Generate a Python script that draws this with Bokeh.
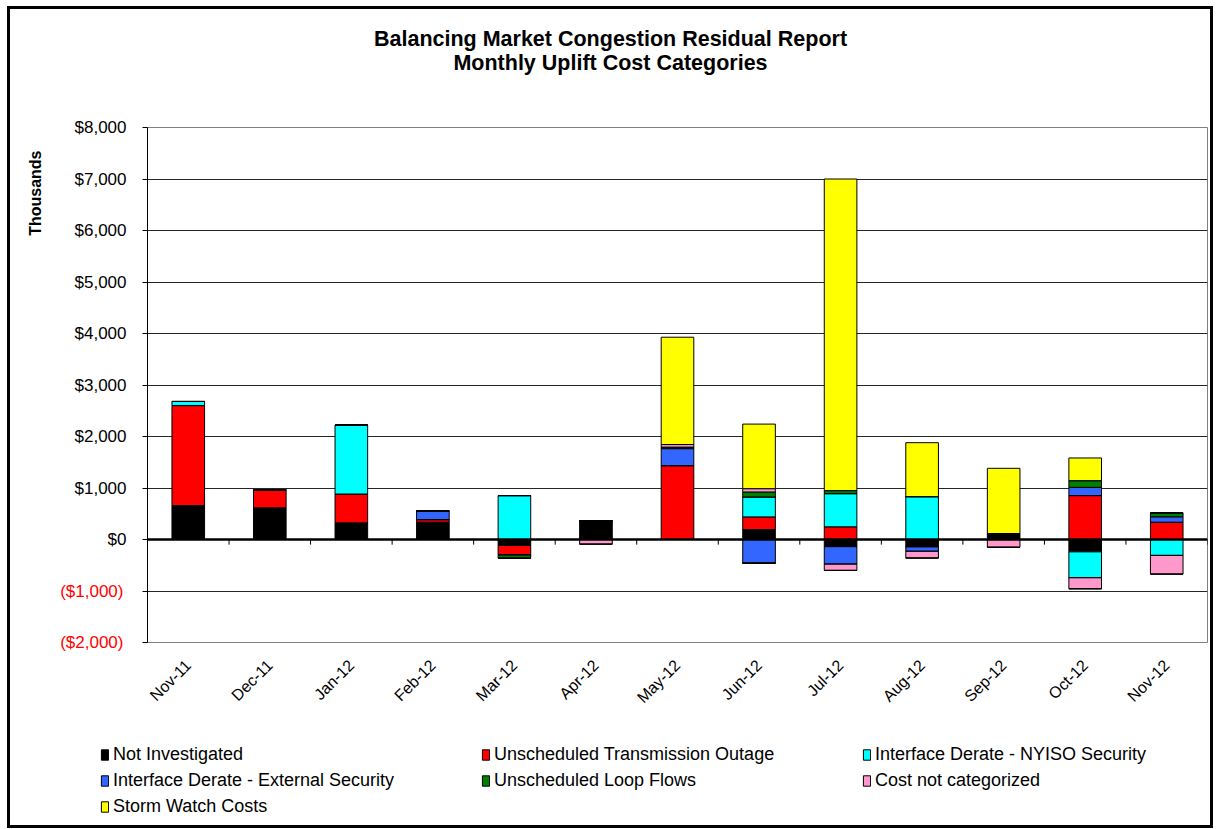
from bokeh.plotting import figure
from bokeh.layouts import column
from bokeh.models import (ColumnDataSource, FactorRange, Range1d, FixedTicker, Span,
                          Legend, LegendItem, Title, LinearAxis, Label)
from bokeh.embed import file_html
from bokeh.resources import INLINE

months = ["Nov-11", "Dec-11", "Jan-12", "Feb-12", "Mar-12", "Apr-12", "May-12",
          "Jun-12", "Jul-12", "Aug-12", "Sep-12", "Oct-12", "Nov-12"]

# values in thousands of dollars
not_investigated = [660, 615, 323, 336, -116, 368, 0, 194, -140, -120, 116, -240, 0]
trans_outage = [1940, 350, 560, 50, -187, 0, 1434, 245, 246, -25, 0, 853, 336]
nyiso_security = [80, 0, 1340, 0, 853, 0, 0, 387, 645, 833, 0, -504, -310]
external_security = [0, 0, 0, 170, 0, 0, 330, -460, -340, -85, 0, 160, 104]
loop_flows = [0, 0, 0, 0, -60, 0, 30, 97, 59, 0, 0, 130, 77]
not_categorized = [0, 0, 0, 0, 0, -90, 50, 64, -120, -130, -150, -213, -362]
storm_watch = [0, 0, 0, 0, 0, 0, 2084, 1254, 6050, 1047, 1266, 440, 0]

series_names = ["Not Investigated", "Unscheduled Transmission Outage",
                "Interface Derate - NYISO Security", "Interface Derate - External Security",
                "Unscheduled Loop Flows", "Cost not categorized", "Storm Watch Costs"]
series_colors = ["#000000", "#FF0000", "#00FFFF", "#3366FF", "#008000", "#FF99CC", "#FFFF00"]

y_ticks = [-2000, -1000, 0, 1000, 2000, 3000, 4000, 5000, 6000, 7000, 8000]
y_tick_labels = ["($2,000)", "($1,000)", "$0", "$1,000", "$2,000", "$3,000", "$4,000",
                 "$5,000", "$6,000", "$7,000", "$8,000"]

chart_title = "Balancing Market Congestion Residual Report\nMonthly Uplift Cost Categories"

series = [not_investigated, trans_outage, nyiso_security, external_security,
          loop_flows, not_categorized, storm_watch]

FONT = "Liberation Sans"
W = 1200

data = {"month": months}
pos_keys, neg_keys = [], []
for i, s in enumerate(series):
    data[f"p{i}"] = [max(v, 0) for v in s]
    data[f"n{i}"] = [min(v, 0) for v in s]
    pos_keys.append(f"p{i}")
    neg_keys.append(f"n{i}")
src = ColumnDataSource(data)

# ---------------- title strip ----------------
tf = figure(width=W, height=100, x_range=Range1d(0, 1), y_range=Range1d(0, 1),
            x_axis_type=None, y_axis_type=None, output_backend="svg", toolbar_location=None,
            min_border=0, outline_line_color=None, frame_align=False)
tf.add_layout(Label(x=W / 2, y=83, x_units="screen", y_units="screen", text=chart_title,
                    text_align="center", text_baseline="top", text_font=FONT,
                    text_font_size="21.5px", text_font_style="bold", text_color="black",
                    text_line_height=1.0))

# ---------------- main chart ----------------
p = figure(width=W, height=626, x_range=FactorRange(*months, range_padding=0),
           y_range=Range1d(y_ticks[0], y_ticks[-1]),
           output_backend="svg", toolbar_location=None,
           min_border_left=136, min_border_right=3, min_border_top=18, min_border_bottom=93)
p.title = None

pos_r = p.vbar_stack(pos_keys, x="month", width=0.4, fill_color=series_colors,
                     line_color="black", line_width=1, source=src)
neg_r = p.vbar_stack(neg_keys, x="month", width=0.4, fill_color=series_colors,
                     line_color="black", line_width=1, source=src)

# zero line and category tick marks on it
p.add_layout(Span(location=0, dimension="width", line_color="black", line_width=2.5))
bounds = list(range(0, len(months) + 1))
p.segment(x0=bounds, x1=bounds, y0=[0] * len(bounds), y1=[-100] * len(bounds),
          line_color="black", line_width=1)

# inner y axis: line, ticks, positive labels in black
p.yaxis.ticker = FixedTicker(ticks=y_ticks)
p.yaxis.major_label_overrides = {t: (lab if t >= 0 else "") for t, lab in zip(y_ticks, y_tick_labels)}
p.yaxis.major_label_text_font = FONT
p.yaxis.major_label_text_font_size = "17px"
p.yaxis.major_label_text_color = "black"
p.yaxis.major_label_standoff = 16
p.yaxis.major_tick_in = 0
p.yaxis.major_tick_out = 5
p.yaxis.minor_tick_line_color = None
p.yaxis.axis_line_color = "black"
p.yaxis.major_tick_line_color = "black"

# outer y axis pulled back onto the inner one: negative labels in red
neg_ticks = [t for t in y_ticks if t < 0]
neg_axis = LinearAxis(ticker=FixedTicker(ticks=neg_ticks),
                      major_label_overrides={t: lab for t, lab in zip(y_ticks, y_tick_labels) if t < 0},
                      major_label_text_font=FONT, major_label_text_font_size="17px",
                      major_label_text_color="#FF0000", major_label_standoff=-52,
                      major_tick_in=0, major_tick_out=0, major_tick_line_color=None,
                      minor_tick_line_color=None, axis_line_color=None)
p.add_layout(neg_axis, "left")

ytitle = Title(text="Thousands", align="right", offset=23, text_font=FONT,
               text_font_size="16px", text_font_style="bold", text_color="black", standoff=28)
p.add_layout(ytitle, "left")

p.xaxis.major_label_orientation = 0.785
p.xaxis.major_label_text_font = FONT
p.xaxis.major_label_text_font_size = "16px"
p.xaxis.major_label_text_color = "black"
p.xaxis.major_label_standoff = 14
p.xaxis.axis_line_color = None
p.xaxis.major_tick_line_color = None
p.xaxis.minor_tick_line_color = None

p.xgrid.grid_line_color = None
p.ygrid.grid_line_color = "black"
p.ygrid.grid_line_width = 1
p.ygrid.grid_line_alpha = 0.85
p.outline_line_color = "#808080"
p.outline_line_width = 1
p.background_fill_color = "white"
p.border_fill_color = "white"

# ---------------- legend strip ----------------
# swatch renderers share the chart's data but sit outside this strip's visible range
lf = figure(width=W, height=90, x_range=FactorRange(*months), y_range=Range1d(100000, 200000),
            x_axis_type=None, y_axis_type=None, output_backend="svg", toolbar_location=None,
            min_border=0, outline_line_color=None, frame_align=False)
swatches = lf.vbar_stack(pos_keys, x="month", width=0.4, fill_color=series_colors,
                         line_color="black", line_width=1, source=src)
items = [LegendItem(label=series_names[i], renderers=[swatches[i]])
         for i in range(len(series_names))]
legend = Legend(items=items, ncols=3, orientation="horizontal", location=(90, 8),
                padding=0, margin=0, border_line_color=None, background_fill_alpha=0,
                glyph_width=9, glyph_height=13, label_standoff=4,
                label_width=364, label_height=22, spacing=4,
                label_text_font=FONT, label_text_font_size="18px", label_text_color="black")
lf.add_layout(legend)

layout = column(tf, p, lf, spacing=0,
                styles={"margin-left": "7px", "margin-top": "6px", "border": "3px solid black"})

open("out.html", "w").write(file_html(layout, INLINE))
